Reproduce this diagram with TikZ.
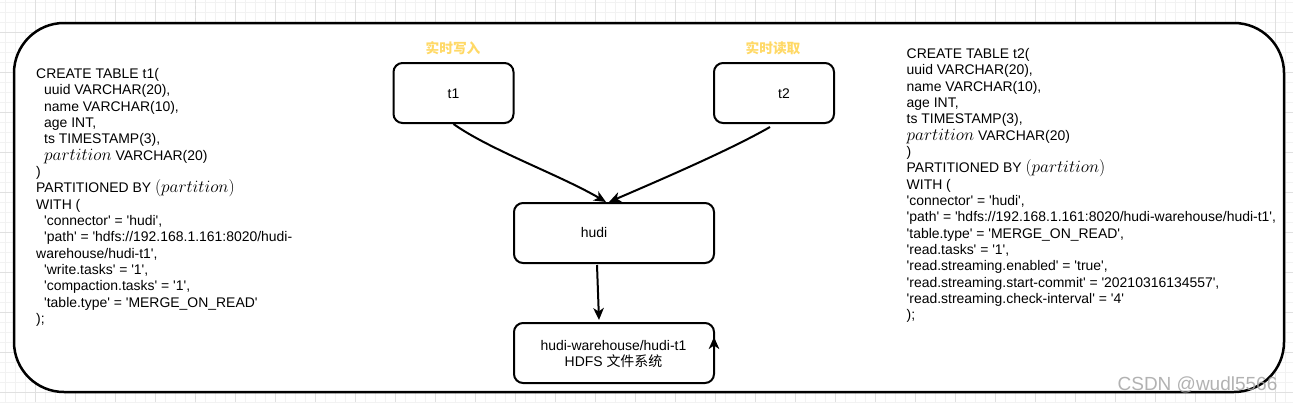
\documentclass[tikz,border=0pt]{standalone}
\usepackage{fontspec}
\setmainfont{Liberation Sans}[Ligatures=TeXOff]
\newfontfamily\cjk{Noto Sans CJK SC}
\usetikzlibrary{arrows.meta,calc}
\definecolor{gridminor}{RGB}{242,242,242}
\definecolor{gridmajor}{RGB}{224,224,224}
\definecolor{labelyellow}{RGB}{255,217,102}
\definecolor{wmgray}{RGB}{165,165,165}
\newcommand\mpart{{\fontsize{16.8}{16.33}\selectfont$partition$}}
\newcommand\mpartp{{\fontsize{16.8}{16.33}\selectfont$(partition)$}}
\tikzset{
  box/.style={draw, line width=2pt, rounded corners=9pt, minimum width=120pt, minimum height=60pt, inner sep=0pt, fill=white},
  widebox/.style={box, minimum width=200pt},
  txt/.style={inner sep=0pt, font=\fontsize{13.95}{16.33}\selectfont},
  sql/.style={txt, align=left, anchor=north west},
  ylabel/.style={inner sep=0pt, text=labelyellow, font=\cjk\bfseries\fontsize{13.7}{16}\selectfont},
  conn/.style={line width=2pt, -{Stealth[length=12pt,width=10.5pt,inset=3.5pt]}},
}
\begin{document}
\begin{tikzpicture}[x=1pt,y=-1pt]
\useasboundingbox (0,0) rectangle (1293,402);
\fill[white] (0,0) rectangle (1293,402);
% background grid
\foreach \x in {5,15,...,1295} \draw[gridminor, line width=0.8pt] (\x,0) -- (\x,402);
\foreach \y in {2,12,...,402} \draw[gridminor, line width=0.8pt] (0,\y) -- (1293,\y);
\foreach \x in {35,75,...,1295} \draw[gridmajor, line width=0.8pt] (\x,0) -- (\x,402);
\foreach \y in {32,72,...,402} \draw[gridmajor, line width=0.8pt] (0,\y) -- (1293,\y);
\draw[gridmajor!120, dashed, line width=0.8pt] (195,0) -- (195,402);
% outer frame
\node[draw, line width=2.5pt, fill=white, rounded corners=50pt, minimum width=1270pt, minimum height=369pt, inner sep=0pt] (frame) at (649,207.5) {};
% left SQL
\node[sql] (sqlone) at (36,68.2) {CREATE TABLE t1(\\
\hspace*{8pt}uuid VARCHAR(20),\\
\hspace*{8pt}name VARCHAR(10),\\
\hspace*{8pt}age INT,\\
\hspace*{8pt}ts TIMESTAMP(3),\\
\hspace*{8pt}\mpart{} VARCHAR(20)\\
)\\
PARTITIONED BY \mpartp\\
WITH (\\
\hspace*{8pt}'connector' = 'hudi',\\
\hspace*{8pt}'path' = 'hdfs://192.168.1.161:8020/hudi-\\
warehouse/hudi-t1',\\
\hspace*{8pt}'write.tasks' = '1',\\
\hspace*{8pt}'compaction.tasks' = '1',\\
\hspace*{8pt}'table.type' = 'MERGE\_ON\_READ'\\
);};
% right SQL
\node[sql] (sqltwo) at (906.5,48.2) {CREATE TABLE t2(\\
uuid VARCHAR(20),\\
name VARCHAR(10),\\
age INT,\\
ts TIMESTAMP(3),\\
\mpart{} VARCHAR(20)\\
)\\
PARTITIONED BY \mpartp\\
WITH (\\
'connector' = 'hudi',\\
'path' = 'hdfs://192.168.1.161:8020/hudi-warehouse/hudi-t1',\\
'table.type' = 'MERGE\_ON\_READ',\\
'read.tasks' = '1',\\
'read.streaming.enabled' = 'true',\\
'read.streaming.start-commit' = '20210316134557',\\
'read.streaming.check-interval' = '4'\\
);};
% labels
\node[ylabel] (lw) at (453,48) {实时写入};
\node[ylabel] (lr) at (773,48) {实时读取};
% boxes
\node[box] (t1) at (453.5,93) {};
\node[txt] (t1text) at (453.5,94) {t1};
\node[box] (t2) at (774,93) {};
\node[txt] (t2text) at (784,94) {t2};
\node[widebox] (hudi) at (614,233) {};
\node[txt] (huditext) at (594,233) {hudi};
\node[widebox] (hdfs) at (614,353) {};
\node[txt, align=center] (hdfstext) at (613.5,354) {hudi-warehouse/hudi-t1\\HDFS {\cjk 文件系统}};
% connectors
\draw[conn] (t1.south) .. controls (490,150) and (560,175) .. ($(hudi.north)+(-8,0)$);
\draw[conn] ($(t2.south)+(-4,3)$) .. controls (730,150) and (660,180) .. ($(hudi.north)+(-5,0)$);
\draw[conn] ($(hudi.south)+(-17,1)$) -- ($(hdfs.north)+(-15,-2)$);
\coordinate (sa0) at (714,358);
\coordinate (sa1) at (714,337);
\draw[conn] (sa0) -- (sa1);
% watermark
\node[inner sep=0pt, text=wmgray, opacity=0.85, font=\fontsize{19}{19}\selectfont] (wm) at (1197.5,385) {CSDN @wudl5566};
\end{tikzpicture}
\end{document}
